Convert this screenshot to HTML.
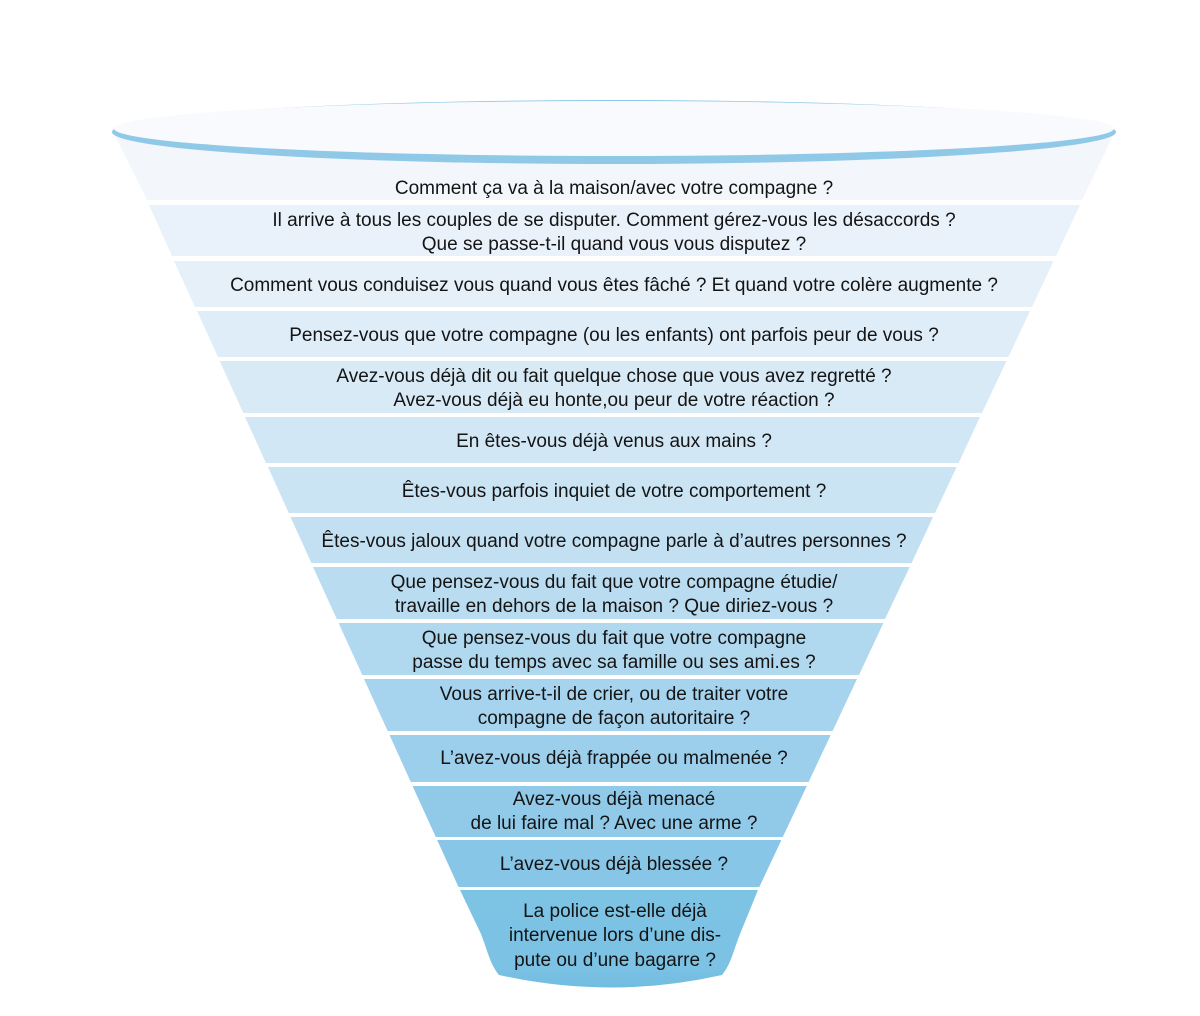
<!DOCTYPE html>
<html>
<head>
<meta charset="utf-8">
<style>
  html,body{margin:0;padding:0;background:#fff;}
  svg{display:block;}
  text{font-family:"Liberation Sans",Arial,sans-serif;font-size:19px;fill:#141414;text-anchor:middle;}
</style>
</head>
<body>
<svg width="1200" height="1016" viewBox="0 0 1200 1016" xmlns="http://www.w3.org/2000/svg">
  <defs>
    <linearGradient id="g15" x1="0" y1="0" x2="0" y2="1">
      <stop offset="0" stop-color="#7dc3e4"/>
      <stop offset="0.8" stop-color="#7bc2e4"/>
      <stop offset="1" stop-color="#71bce1"/>
    </linearGradient>
  </defs>
  <rect width="1200" height="1016" fill="#fff"/>

  <!-- bands -->
  <polygon points="113,132 1115,132 1082,200 147,200" fill="#f3f7fc"/>
  <polygon points="149,205 1080,205 1056,256 172,256" fill="#e9f2fa"/>
  <polygon points="174,261 1053.5,261 1032,307 195,307" fill="#e5f0f9"/>
  <polygon points="197,311 1030,311 1008.4,357 218,357" fill="#dfedf8"/>
  <polygon points="219.7,361 1006.5,361 982,413 243.3,413" fill="#d8eaf6"/>
  <polygon points="245,417 980,417 958.6,463 266,463" fill="#d2e7f5"/>
  <polygon points="268,467 956.7,467 935,513 288.7,513" fill="#cbe4f4"/>
  <polygon points="290.5,517 933,517 911.6,563 311.4,563" fill="#c3e0f2"/>
  <polygon points="313,567 909.7,567 885,619 336.8,619" fill="#badcf0"/>
  <polygon points="338.6,623 883.4,623 859,675 362.3,675" fill="#b0d8ef"/>
  <polygon points="364,679 857,679 832.6,731 387.7,731" fill="#a6d3ed"/>
  <polygon points="389.5,735 830.7,735 808.6,782 410.8,782" fill="#9ccfeb"/>
  <polygon points="412.5,786 806.8,786 782.8,837 435.8,837" fill="#91cae9"/>
  <polygon points="437.2,840 781.4,840 759.3,887 458.5,887" fill="#87c6e7"/>
  <path d="M460,890 L758,890 L740,934 C733,952 731,964 722,975 Q611,1000 499,975 C490,964 488,952 481,934 Z" fill="url(#g15)"/>

  <!-- top rim ellipse -->
  <ellipse cx="614" cy="132" rx="502" ry="32" fill="#8fc9e7"/>
  <ellipse cx="614" cy="128.5" rx="500" ry="27.5" fill="#f8fafd"/>

  <!-- texts -->
  <text x="614" y="194">Comment ça va à la maison/avec votre compagne ?</text>
  <text x="614" y="226">Il arrive à tous les couples de se disputer. Comment gérez-vous les désaccords ?</text>
  <text x="614" y="250">Que se passe-t-il quand vous vous disputez ?</text>
  <text x="614" y="291">Comment vous conduisez vous quand vous êtes fâché ? Et quand votre colère augmente ?</text>
  <text x="614" y="341">Pensez-vous que votre compagne (ou les enfants) ont parfois peur de vous ?</text>
  <text x="614" y="382">Avez-vous déjà dit ou fait quelque chose que vous avez regretté ?</text>
  <text x="614" y="406">Avez-vous déjà eu honte,ou peur de votre réaction ?</text>
  <text x="614" y="447">En êtes-vous déjà venus aux mains ?</text>
  <text x="614" y="497">Êtes-vous parfois inquiet de votre comportement ?</text>
  <text x="614" y="547">Êtes-vous jaloux quand votre compagne parle à d’autres personnes ?</text>
  <text x="614" y="588">Que pensez-vous du fait que votre compagne étudie/</text>
  <text x="614" y="612">travaille en dehors de la maison ? Que diriez-vous ?</text>
  <text x="614" y="644">Que pensez-vous du fait que votre compagne</text>
  <text x="614" y="668">passe du temps avec sa famille ou ses ami.es ?</text>
  <text x="614" y="700">Vous arrive-t-il de crier, ou de traiter votre</text>
  <text x="614" y="724">compagne de façon autoritaire ?</text>
  <text x="614" y="764">L’avez-vous déjà frappée ou malmenée ?</text>
  <text x="614" y="805">Avez-vous déjà menacé</text>
  <text x="614" y="829">de lui faire mal ? Avec une arme ?</text>
  <text x="614" y="870">L’avez-vous déjà blessée ?</text>
  <text x="615" y="917">La police est-elle déjà</text>
  <text x="615" y="941">intervenue lors d’une dis-</text>
  <text x="615" y="966">pute ou d’une bagarre ?</text>
</svg>
</body>
</html>
